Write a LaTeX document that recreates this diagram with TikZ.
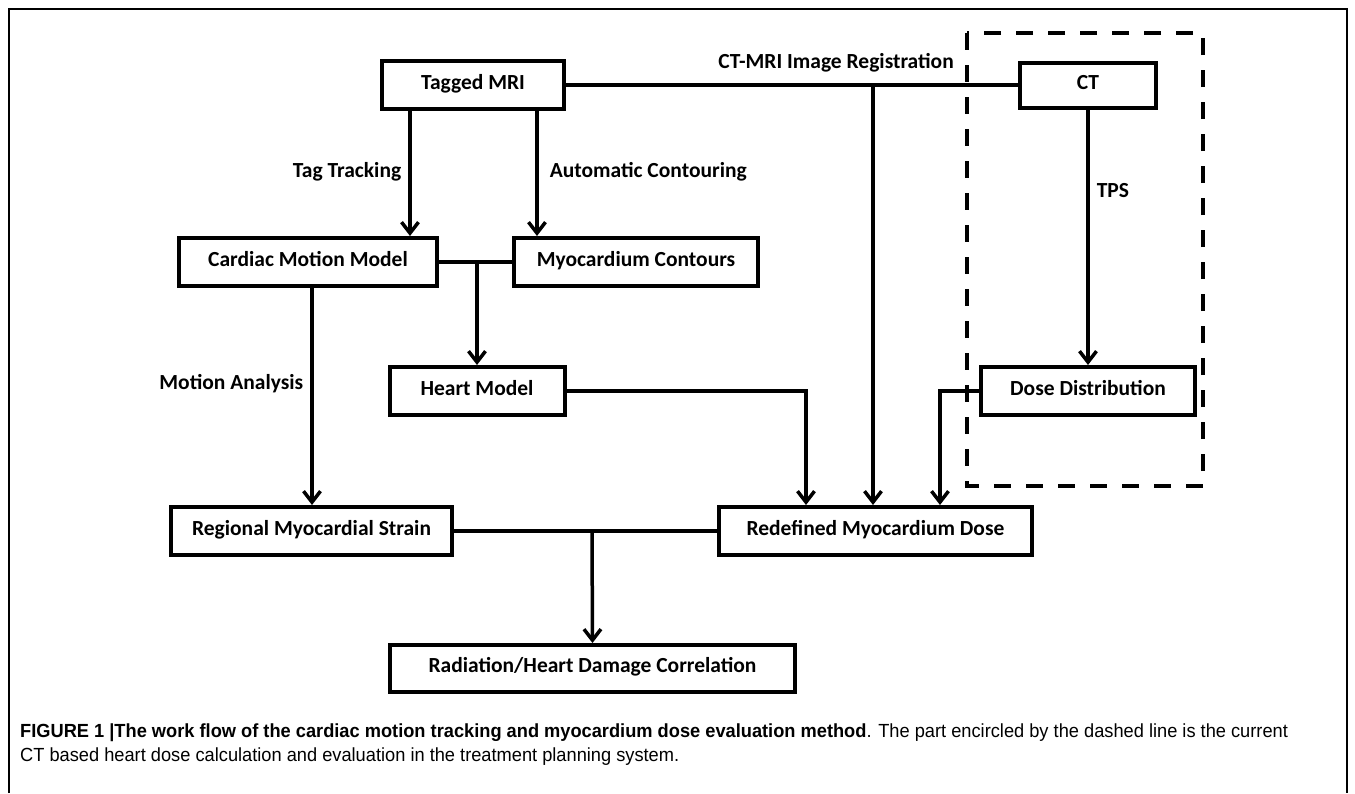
\documentclass[tikz,border=0pt]{standalone}
\usepackage{fontspec}
\usepackage{tikz}
\usetikzlibrary{arrows.meta,positioning,calc}
\setmainfont{Carlito}
\newfontfamily\capfont{Liberation Sans}[FakeStretch=0.96]

\begin{document}
\begin{tikzpicture}[
    x=1pt, y=-1pt,
    box/.style={draw, line width=4pt, minimum height=48pt, font=\fontsize{21.5}{24}\selectfont\bfseries, inner sep=0pt, text height=14pt, text depth=6pt},
    link/.style={line width=3.5pt},
    arrow/.style={link, -{Straight Barb[length=11pt,width=17pt,line width=3.5pt]}},
    tag/.style={font=\fontsize{21.5}{24}\selectfont\bfseries, inner sep=0pt, text height=14pt, text depth=6pt},
    dashbox/.style={line width=4pt, dash pattern=on 17pt off 15pt}
]
\useasboundingbox (0,0) rectangle (1355,793);
% Frame
\draw[line width=1.2pt] (9,793) |- (1347,9) -- (1347,793);

% Boxes
\node[box, minimum width=182pt] (mri) at (473,85) {Tagged MRI};
\node[box, minimum width=136pt, minimum height=45pt] (ct) at (1088,85) {CT};
\node[box, minimum width=258pt] (cmm) at (308,262) {Cardiac Motion Model};
\node[box, minimum width=244pt] (myo) at (636,262) {Myocardium Contours};
\node[box, minimum width=175pt] (heart) at (477,391) {Heart Model};
\node[box, minimum width=214pt] (dose) at (1088,391) {Dose Distribution};
\node[box, minimum width=281pt] (strain) at (311.5,531) {Regional Myocardial Strain};
\node[box, minimum width=313pt] (redef) at (875.5,531) {Redefined Myocardium Dose};
\node[box, minimum width=405pt, minimum height=47pt] (corr) at (592.5,668.5) {Radiation/Heart Damage Correlation};

% Treatment planning part
\draw[dashbox] (967,33) rectangle (1203,486);

% Branch points
\coordinate (tt) at (410,0);
\coordinate (ac) at (537,0);
\coordinate (ma) at (312,0);
\coordinate (reg) at (873,85);
\coordinate (j1) at (477,262);
\coordinate (hm) at (806,0);
\coordinate (dd) at (940,0);
\coordinate (j2) at (592,531);

% Connectors
\draw[link] (mri.east) -- (ct.west);
\node[tag, anchor=east] (regtxt) at (954,64) {CT-MRI Image Registration};
\draw[arrow] (reg) -- (reg |- redef.north);
\draw[arrow] (tt |- mri.south) -- node[tag, left=7pt] {Tag Tracking} (tt |- cmm.north);
\draw[arrow] (ac |- mri.south) -- node[tag, right=11pt] {Automatic Contouring} (ac |- myo.north);
\draw[arrow] (ct.south) -- node[tag, pos=0.33, right=7pt] {TPS} (dose.north);
\draw[link] (cmm.east) -- (myo.west);
\draw[arrow] (j1) -- (j1 |- heart.north);
\draw[arrow] (ma |- cmm.south) -- node[tag, pos=0.45, left=7pt] {Motion Analysis} (ma |- strain.north);
\draw[arrow] (heart.east) -| (hm |- redef.north);
\draw[arrow] (dose.west) -| (dd |- redef.north);
\draw[link] (strain.east) -- (redef.west);
\draw[arrow] (j2) -- (corr.north);

% Caption
\node[anchor=west, inner sep=0pt, font=\capfont\fontsize{19}{22}\selectfont] (cap1) at (20,733)
  {\textbf{FIGURE 1 |The work flow of the cardiac motion tracking and myocardium dose evaluation method}. The part encircled by the dashed line is the current};
\node[anchor=west, inner sep=0pt, font=\capfont\fontsize{19}{22}\selectfont] (cap2) at (20,757)
  {CT based heart dose calculation and evaluation in the treatment planning system.};
\end{tikzpicture}
\end{document}
